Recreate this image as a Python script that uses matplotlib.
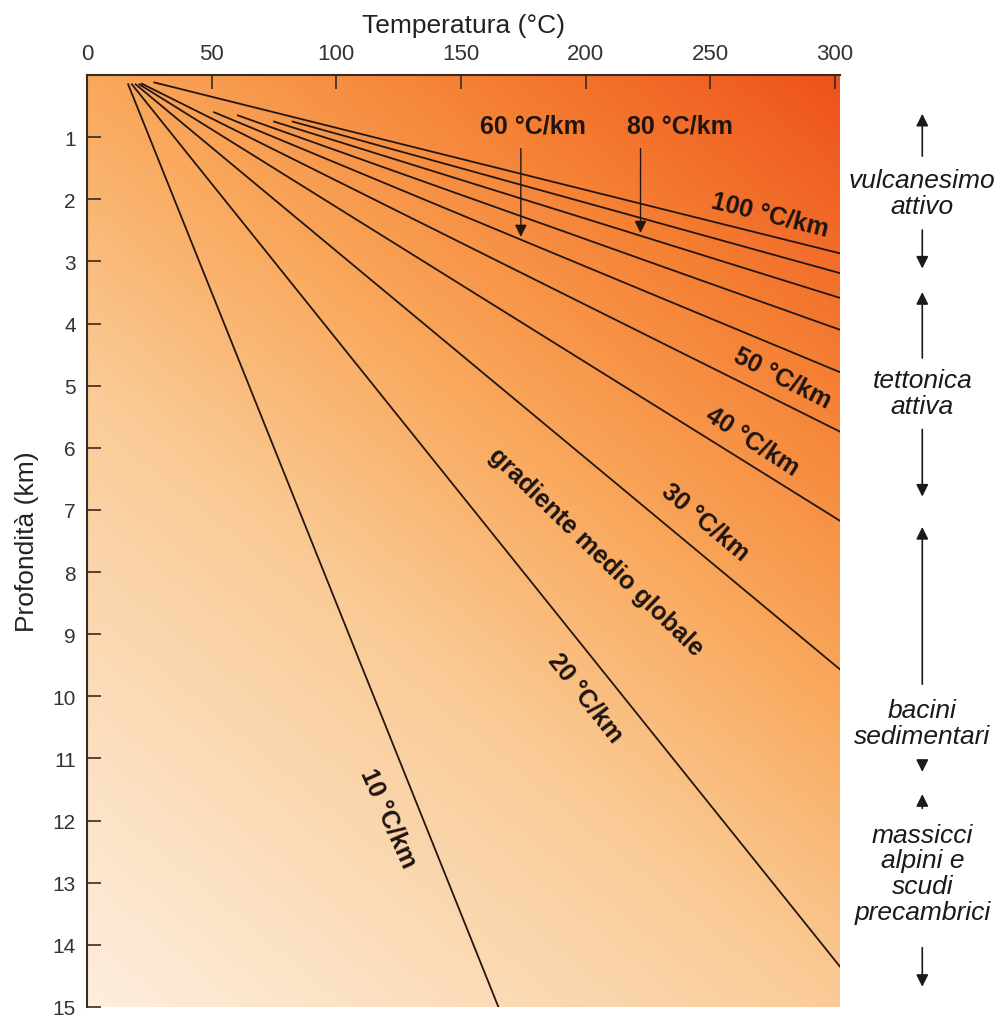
import numpy as np
import matplotlib
matplotlib.use("Agg")
import matplotlib.pyplot as plt
from matplotlib.colors import LinearSegmentedColormap

# geothermal gradients (°C/km) and where each line starts (km)
gradients = [10, 20, 30, 40, 50, 60, 70, 80, 90, 100]
start_depth = [0.15, 0.15, 0.15, 0.15, 0.14, 0.6, 0.65, 0.75, 0.75, 0.12]
surface_temp = 15

x_ticks = [0, 50, 100, 150, 200, 250, 300]
y_ticks = list(range(1, 16))

# labels on the lines: text, temperature, depth, rotation
line_labels = ["100 °C/km", "50 °C/km", "40 °C/km", "30 °C/km",
               "gradiente medio globale", "20 °C/km", "10 °C/km"]
label_temp = [274, 279, 267, 248, 204, 200, 121]
label_depth = [2.24, 4.86, 5.89, 7.18, 7.67, 10.02, 11.95]
label_rot = [-14, -27, -33, -40, -44, -52, -66]

# arrow labels: text, label pos (T), arrow target temperature
arrow_labels = ["60 °C/km", "80 °C/km"]
arrow_label_temp = [179, 238]
arrow_target_temp = [174, 222]
arrow_target_grad = [60, 80]

# right side settings
settings = ["vulcanesimo\nattivo", "tettonica\nattiva", "bacini\nsedimentari",
            "massicci\nalpini e\nscudi\nprecambrici"]
setting_center = [1.90, 5.12, 10.43, 12.85]
setting_up = [(0.58, 1.35), (3.45, 4.60), (7.23, 9.85), (11.53, 11.85)]
setting_down = [(2.45, 3.16), (5.66, 6.83), (11.0, 11.26), (14.0, 14.72)]

fig = plt.figure(figsize=(10.07, 10.2), dpi=100)
ax = fig.add_axes([87 / 1007, 1 - 1008 / 1020, (840 - 87) / 1007, (1008 - 76) / 1020])

xmax = 302
ax.set_xlim(0, xmax)
ax.set_ylim(15, 0)

# background gradient
cmap = LinearSegmentedColormap.from_list("heat", [
    (0.0, (253 / 255, 238 / 255, 222 / 255)),
    (0.4, (250 / 255, 203 / 255, 150 / 255)),
    (0.6, (249 / 255, 168 / 255, 92 / 255)),
    (0.8, (245 / 255, 128 / 255, 52 / 255)),
    (1.0, (238 / 255, 82 / 255, 28 / 255)),
])
U, V = np.meshgrid(np.linspace(0, 1, 300), np.linspace(0, 1, 300))
t = 0.4 * U + 0.6 * (1 - V)
ax.imshow(cmap(t), extent=(0, xmax, 15, 0), aspect="auto", origin="upper", zorder=0)

line_col = "#24160f"
for g, z0 in zip(gradients, start_depth):
    z = np.array([z0, 15])
    T = surface_temp + g * z
    ax.plot(T, z, color=line_col, lw=1.3, zorder=2)

bold = dict(family=["Liberation Sans", "DejaVu Sans"], fontweight="bold", fontsize=18, color="#1e1410")
for txt, T, z, r in zip(line_labels, label_temp, label_depth, label_rot):
    ax.text(T, z, txt, rotation=r, ha="center", va="center", rotation_mode="anchor", **bold)

for txt, T, tt, g in zip(arrow_labels, arrow_label_temp, arrow_target_temp, arrow_target_grad):
    ax.text(T, 0.82, txt, ha="center", va="center", **bold)
    ax.annotate("", xy=(tt, (tt - surface_temp) / g), xytext=(tt, 1.14),
                arrowprops=dict(arrowstyle="-|>", color=line_col, lw=1.0, mutation_scale=18))

# right side annotations
xr = 335
it = dict(family=["Liberation Sans", "DejaVu Sans"], style="italic", fontsize=19,
          color="#1a1a1a", ha="center", va="center", linespacing=1.1)
arr = dict(arrowstyle="-|>", color="#1a1a1a", lw=1.2, mutation_scale=18)
for txt, zc, up, dn in zip(settings, setting_center, setting_up, setting_down):
    ax.text(xr, zc, txt, clip_on=False, **it)
    ax.annotate("", xy=(xr, up[0]), xytext=(xr, up[1]), arrowprops=arr, annotation_clip=False)
    ax.annotate("", xy=(xr, dn[1]), xytext=(xr, dn[0]), arrowprops=arr, annotation_clip=False)

# axes styling
for s in ["right", "bottom"]:
    ax.spines[s].set_visible(False)
for s in ["left", "top"]:
    ax.spines[s].set_color("#3a2a20")
    ax.spines[s].set_linewidth(1.5)

ax.xaxis.tick_top()
ax.xaxis.set_label_position("top")
ax.set_xticks(x_ticks)
ax.set_yticks(y_ticks)
ax.tick_params(axis="both", direction="in", length=10, width=1.2, color="#3a2a20", labelcolor="#333333")
ax.tick_params(axis="x", labelsize=16, pad=8)
ax.tick_params(axis="y", labelsize=15, pad=8)
for lab in ax.get_xticklabels():
    lab.set_family(["Liberation Sans Narrow", "Liberation Sans"])
for lab in ax.get_yticklabels():
    lab.set_family(["Liberation Sans", "DejaVu Sans"])

ax.set_xlabel("Temperatura (°C)", fontsize=19, color="#222222", labelpad=8,
              family=["Liberation Sans Narrow", "Liberation Sans"])
ax.set_ylabel("Profondità (km)", fontsize=19, color="#222222", labelpad=10,
              family=["Liberation Sans Narrow", "Liberation Sans"])

fig.savefig("out.png", dpi=100)
